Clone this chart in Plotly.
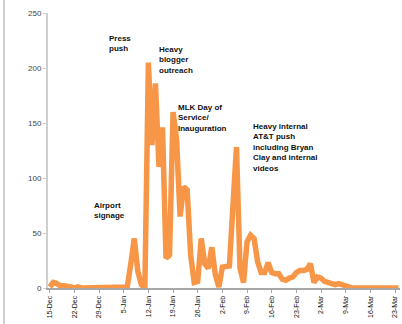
import pandas as pd
import plotly.graph_objects as go

# Daily counts, starting 15 Dec 2008
start_date = "2008-12-15"
daily_counts = [
    1, 5, 4, 2, 2, 2, 1, 0, 1, 0,
    0, 0, 0, 0, 0, 1, 0, 0, 0, 0,
    0, 0, 1, 22, 45, 15, 3, 0, 205, 130,
    186, 110, 146, 27, 30, 160, 135, 65, 92, 89,
    30, 5, 6, 45, 22, 18, 37, 12, 1, 19,
    19, 20, 75, 128, 18, 5, 42, 48, 45, 24,
    14, 14, 23, 14, 13, 13, 8, 7, 9, 10,
    14, 16, 16, 17, 22, 5, 10, 9, 6, 5,
    4, 3, 4, 3, 1, 0, 0, 0, 0, 0,
    0, 0, 0, 0, 0, 0, 0, 0, 0, 0,
]
dates = pd.date_range(start_date, periods=len(daily_counts), freq="D")

# Weekly tick labels (Mondays)
tick_dates = pd.date_range("2008-12-15", "2009-03-23", freq="7D")
tick_labels = [f"{d.day}-{d.strftime('%b')}" for d in tick_dates]

y_ticks = [0, 50, 100, 150, 200, 250]

# Event notes: (text, left px, top px)
notes = [
    ("Press<br>push", 107, 32),
    ("Heavy<br>blogger<br>outreach", 157, 43),
    ("MLK Day of<br>Service/<br>Inauguration", 176, 101),
    ("Heavy internal<br>AT&amp;T push<br>including Bryan<br>Clay and internal<br>videos", 251, 120),
    ("Airport<br>signage", 92, 199),
]

W, H = 402, 324
ML, MR, MT, MB = 48, 2, 13, 36
PW, PH = W - ML - MR, H - MT - MB

fig = go.Figure()
fig.add_trace(go.Scatter(
    x=dates, y=daily_counts, mode="lines",
    line=dict(color="#F79646", width=5.5),
    hoverinfo="skip",
))

for text, px, py in notes:
    fig.add_annotation(
        text=f"<b>{text}</b>", xref="paper", yref="paper",
        x=(px - ML) / PW, y=1 - (py - MT) / PH,
        xanchor="left", yanchor="top", align="left", showarrow=False,
        font=dict(family="Liberation Sans, Arial", size=8, color="#111"),
    )

# Frame line at the left edge of the slide
fig.add_shape(type="line", xref="paper", yref="paper",
              x0=(4 - ML) / PW, x1=(4 - ML) / PW,
              y0=1 + MT / PH, y1=-MB / PH,
              line=dict(color="#cfcfcf", width=2))

fig.update_layout(
    width=W, height=H,
    margin=dict(l=ML, r=MR, t=MT, b=MB),
    paper_bgcolor="white", plot_bgcolor="white",
    showlegend=False,
    font=dict(family="Liberation Sans, Arial", color="#222"),
)
fig.update_xaxes(
    type="date",
    range=["2008-12-14 12:00", "2009-03-24 10:00"],
    tickvals=tick_dates, ticktext=tick_labels,
    tickangle=-90, tickfont=dict(size=7, color="#111"),
    showline=True, linecolor="#a6a6a6", linewidth=2,
    ticks="outside", ticklen=3, tickcolor="#a6a6a6",
    showgrid=False, zeroline=False,
)
fig.update_yaxes(
    range=[0, 250], tickvals=y_ticks,
    tickfont=dict(size=8, color="#444"),
    showline=True, linecolor="#cfcfcf", linewidth=2,
    ticks="outside", ticklen=3, tickcolor="#cfcfcf",
    showgrid=False, zeroline=False,
)

fig.write_html("out.html")
